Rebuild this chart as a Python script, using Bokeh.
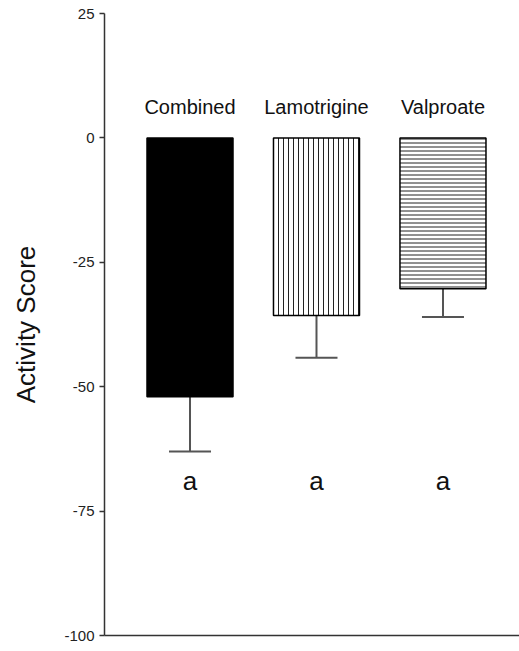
from bokeh.plotting import figure
from bokeh.models import ColumnDataSource, FixedTicker, Whisker, TeeHead
from bokeh.core.properties import value
from bokeh.embed import file_html
from bokeh.resources import INLINE

categories = ["Combined", "Lamotrigine", "Valproate"]
means = [-52.0, -35.7, -30.3]
lower = [-63.0, -44.2, -36.0]
letters = ["a", "a", "a"]
y_ticks = [25, 0, -25, -50, -75, -100]
y_tick_labels = ["25", "0", "-25", "-50", "-75", "-100"]

xpos = [1, 2, 3]
fills = ["black", "white", "white"]
hatches = [" ", "|", "-"]
scales = [5, 5, 4]

src = ColumnDataSource(dict(x=xpos, top=[0, 0, 0], bottom=means, lower=lower, upper=means,
                            fill=fills, hatch=hatches, scale=scales, cat=categories, let=letters,
                            ylab=[6.3] * 3, ylet=[-69.0] * 3))

p = figure(width=519, height=651, output_backend="svg", toolbar_location=None,
           x_range=(0.324, 3.605), y_range=(-100, 25),
           min_border_left=104, min_border_right=0, min_border_top=13, min_border_bottom=16)
p.outline_line_color = None
p.grid.visible = False
p.background_fill_color = "white"

p.vbar(x="x", width=0.68, top="top", bottom="bottom", source=src,
       fill_color="fill", line_color="black", line_width=1.5,
       hatch_pattern="hatch", hatch_color="#222222", hatch_weight=1, hatch_scale="scale")

w = Whisker(base="x", lower="lower", upper="upper", source=src,
            line_color="#555555", line_width=2,
            lower_head=TeeHead(size=42, line_color="#555555", line_width=2), upper_head=None)
p.add_layout(w)

p.text(x="x", y="ylab", text="cat", source=src, text_align="center", text_baseline="alphabetic",
       text_font=value("Liberation Sans"), text_font_size="20px", text_color="#111111")
p.text(x="x", y="ylet", text="let", source=src, text_align="center", text_baseline="alphabetic",
       text_font=value("Liberation Sans"), text_font_size="26px", text_color="#111111")

ya = p.yaxis[0]
ya.ticker = FixedTicker(ticks=y_ticks)
ya.major_label_overrides = {t: s for t, s in zip(y_ticks, y_tick_labels)}
ya.minor_tick_line_color = None
ya.major_tick_out = 5
ya.major_tick_in = 0
ya.axis_line_width = 1.5
ya.axis_line_color = "#333333"
ya.major_tick_line_color = "#333333"
ya.major_tick_line_width = 1.5
ya.major_label_text_font = "Liberation Sans"
ya.major_label_text_font_size = "15px"
ya.major_label_text_color = "#222222"
ya.axis_label = "Activity Score"
ya.axis_label_text_font = "Liberation Sans"
ya.axis_label_text_font_style = "normal"
ya.axis_label_text_font_size = "26px"
ya.axis_label_text_color = "#111111"
ya.axis_label_standoff = 20

xa = p.xaxis[0]
xa.ticker = FixedTicker(ticks=[])
xa.minor_tick_line_color = None
xa.major_tick_line_color = None
xa.major_label_text_font_size = "0px"
xa.axis_line_width = 1.5
xa.axis_line_color = "#333333"

open("out.html", "w").write(file_html(p, INLINE))
